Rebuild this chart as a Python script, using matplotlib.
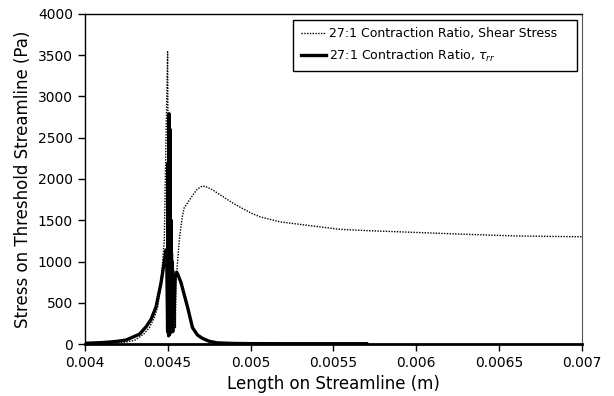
import matplotlib
matplotlib.use('Agg')
import matplotlib.pyplot as plt

# Shear stress along threshold streamline (dotted series)
shear_x = [0.004, 0.0041, 0.0042, 0.00425, 0.0043, 0.00433, 0.00436, 0.00439, 0.00442,
           0.00444, 0.00446, 0.00448, 0.00449, 0.0045, 0.004505, 0.004508, 0.00451,
           0.004513, 0.004516, 0.00452, 0.004523, 0.004527, 0.00453, 0.004534, 0.004537,
           0.00454, 0.004544, 0.004547, 0.00455, 0.004555, 0.00456, 0.00457, 0.00458,
           0.00459, 0.0046, 0.00462, 0.00465, 0.00468, 0.00471, 0.00474, 0.00477, 0.0048,
           0.0049, 0.005, 0.00506, 0.00518, 0.0053, 0.00538, 0.00554, 0.0057, 0.0059,
           0.0061, 0.0063, 0.0066, 0.0068, 0.007]
shear_y = [0, 5, 15, 25, 45, 85, 130, 200, 320, 450, 740, 1260, 2470, 3540, 1500, 150,
           2600, 120, 1800, 200, 1400, 150, 1100, 200, 900, 150, 800, 200, 700, 860, 1000,
           1250, 1420, 1560, 1650, 1710, 1800, 1880, 1915, 1900, 1870, 1830, 1700, 1590,
           1540, 1480, 1450, 1430, 1390, 1375, 1360, 1345, 1330, 1310, 1305, 1300]

# Normal stress tau_rr (thick series)
tau_x = [0.004, 0.0041, 0.00415, 0.0042, 0.00425, 0.00429, 0.00433, 0.00437, 0.0044,
         0.00443, 0.00446, 0.00448, 0.00449, 0.004495, 0.0045, 0.004503, 0.004506,
         0.004509, 0.004512, 0.004515, 0.004518, 0.004521, 0.004524, 0.004527, 0.00453,
         0.004535, 0.00454, 0.004545, 0.00455, 0.004555, 0.00456, 0.00458, 0.0046,
         0.00462, 0.00465, 0.00468, 0.00471, 0.00475, 0.0048, 0.0049, 0.005, 0.0052,
         0.0054, 0.0057]
tau_y = [10, 18, 25, 35, 50, 85, 120, 210, 300, 450, 740, 1000, 1140, 1000, 150, 2200,
         100, 2790, 120, 2600, 150, 1500, 200, 1000, 150, 700, 400, 800, 860, 870, 850,
         750, 600, 450, 200, 110, 70, 35, 15, 8, 6, 5, 5, 5]

fig = plt.figure(figsize=(6.14, 3.96), dpi=100)
ax = fig.add_axes([0.138, 0.131, 0.81, 0.834])

ax.plot(shear_x, shear_y, color='black', linewidth=1.0, linestyle=(0, (1, 1)),
        label='27:1 Contraction Ratio, Shear Stress   ')
ax.plot(tau_x, tau_y, color='black', linewidth=2.4,
        label=r'27:1 Contraction Ratio, $\tau_{rr}$')

ax.set_xlim(0.004, 0.007)
ax.set_ylim(0, 4000)
ax.set_xticks([0.004, 0.0045, 0.005, 0.0055, 0.006, 0.0065, 0.007])
ax.set_xticklabels(['0.004', '0.0045', '0.005', '0.0055', '0.006', '0.0065', '0.007'])
ax.set_yticks(range(0, 4001, 500))
ax.tick_params(axis='both', direction='out', length=5, width=1, labelsize=10)

ax.spines['bottom'].set_linewidth(2)
ax.spines['left'].set_linewidth(1)
ax.spines['top'].set_linewidth(1)
ax.spines['right'].set_color('#555555')

ax.set_xlabel('Length on Streamline (m)', fontsize=12)
ax.set_ylabel('Stress on Threshold Streamline (Pa)', fontsize=12)

leg = ax.legend(loc='upper right', bbox_to_anchor=(0.99, 0.982), borderaxespad=0,
                fancybox=False, edgecolor='black', framealpha=1, fontsize=9,
                handlelength=2.0, handletextpad=0.3, borderpad=0.6, labelspacing=0.6)
leg.get_frame().set_linewidth(1)

fig.savefig('out.png', dpi=100)
